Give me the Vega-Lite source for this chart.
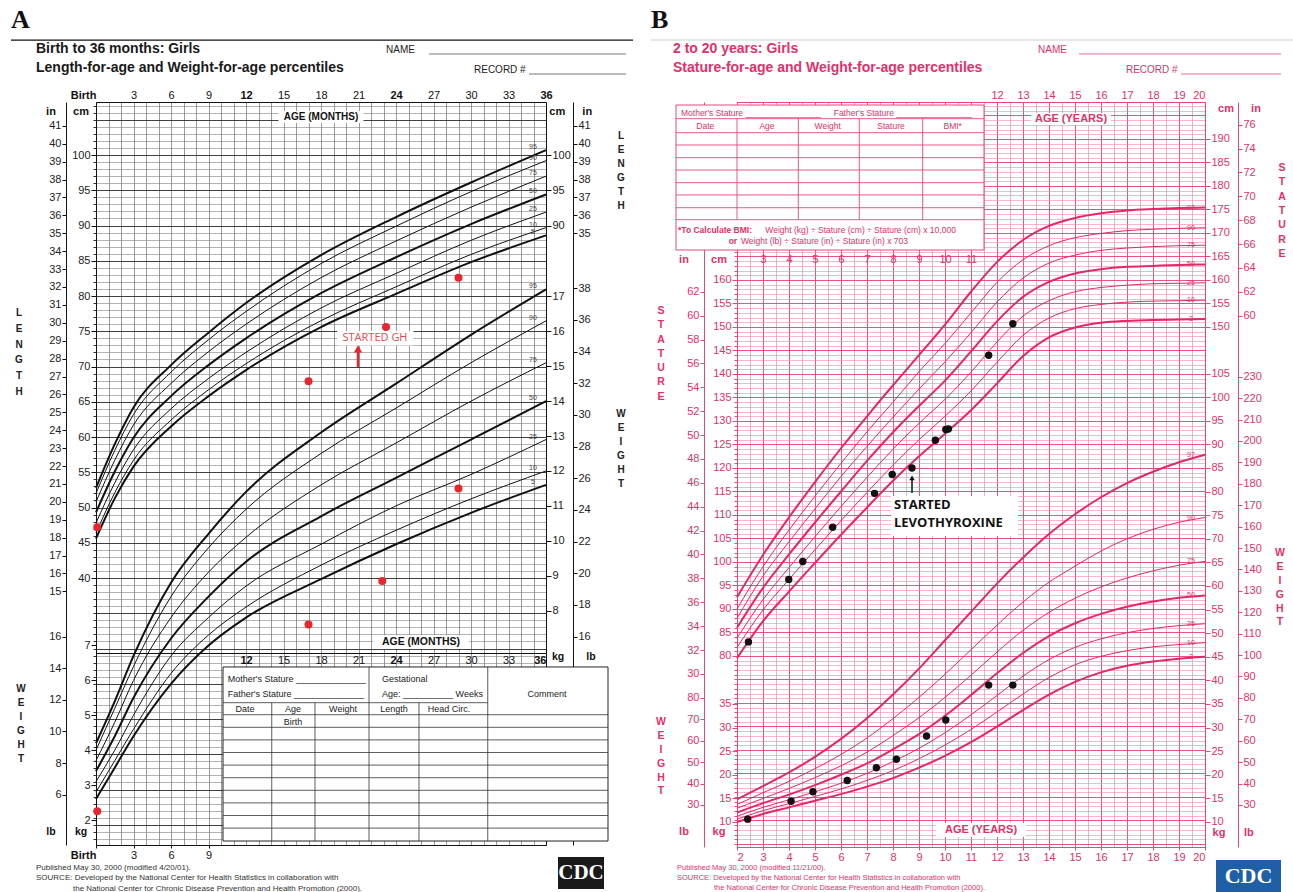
{
"$schema": "https://vega.github.io/schema/vega-lite/v6.json",
"background": "white",
"padding": {"left": 10, "top": 6, "right": 0, "bottom": 0},
"bounds": "flush",
"spacing": 191,
"config": {"view": {"stroke": null}, "axis": {"labelFont": "Liberation Sans", "labelFontSize": 11}, "text": {"font": "Liberation Sans"}},
"datasets": {
"lenA": [
{"p":"5","m":0,"v":45.6},{"p":"5","m":1.5,"v":51.3},{"p":"5","m":3,"v":55.8},{"p":"5","m":6,"v":61.5},{"p":"5","m":9,"v":65.8},{"p":"5","m":12,"v":69.5},{"p":"5","m":18,"v":75.6},{"p":"5","m":24,"v":80.3},{"p":"5","m":30,"v":84.8},{"p":"5","m":36,"v":88.6},
{"p":"10","m":0,"v":46.4},{"p":"10","m":1.5,"v":52.1},{"p":"10","m":3,"v":56.7},{"p":"10","m":6,"v":62.4},{"p":"10","m":9,"v":66.7},{"p":"10","m":12,"v":70.4},{"p":"10","m":18,"v":76.5},{"p":"10","m":24,"v":81.3},{"p":"10","m":30,"v":85.9},{"p":"10","m":36,"v":89.7},
{"p":"25","m":0,"v":47.8},{"p":"25","m":1.5,"v":53.5},{"p":"25","m":3,"v":58.2},{"p":"25","m":6,"v":64.0},{"p":"25","m":9,"v":68.3},{"p":"25","m":12,"v":72.0},{"p":"25","m":18,"v":78.3},{"p":"25","m":24,"v":83.2},{"p":"25","m":30,"v":87.9},{"p":"25","m":36,"v":91.9},
{"p":"50","m":0,"v":49.3},{"p":"50","m":1.5,"v":55.1},{"p":"50","m":3,"v":59.9},{"p":"50","m":6,"v":65.8},{"p":"50","m":9,"v":70.2},{"p":"50","m":12,"v":74.0},{"p":"50","m":18,"v":80.4},{"p":"50","m":24,"v":85.5},{"p":"50","m":30,"v":90.2},{"p":"50","m":36,"v":94.4},
{"p":"75","m":0,"v":50.8},{"p":"75","m":1.5,"v":56.7},{"p":"75","m":3,"v":61.7},{"p":"75","m":6,"v":67.6},{"p":"75","m":9,"v":72.1},{"p":"75","m":12,"v":76.0},{"p":"75","m":18,"v":82.6},{"p":"75","m":24,"v":87.8},{"p":"75","m":30,"v":92.6},{"p":"75","m":36,"v":97.0},
{"p":"90","m":0,"v":52.0},{"p":"90","m":1.5,"v":58.1},{"p":"90","m":3,"v":63.2},{"p":"90","m":6,"v":69.2},{"p":"90","m":9,"v":73.8},{"p":"90","m":12,"v":77.8},{"p":"90","m":18,"v":84.6},{"p":"90","m":24,"v":89.9},{"p":"90","m":30,"v":94.8},{"p":"90","m":36,"v":99.2},
{"p":"95","m":0,"v":52.8},{"p":"95","m":1.5,"v":59.0},{"p":"95","m":3,"v":64.2},{"p":"95","m":6,"v":70.2},{"p":"95","m":9,"v":74.8},{"p":"95","m":12,"v":79.0},{"p":"95","m":18,"v":85.8},{"p":"95","m":24,"v":91.2},{"p":"95","m":30,"v":96.1},{"p":"95","m":36,"v":100.7}
],
"wtA": [
{"p":"5","m":0,"v":2.6},{"p":"5","m":1.5,"v":3.5},{"p":"5","m":3,"v":4.4},{"p":"5","m":6,"v":5.9},{"p":"5","m":9,"v":7.0},{"p":"5","m":12,"v":7.8},{"p":"5","m":18,"v":8.9},{"p":"5","m":24,"v":9.9},{"p":"5","m":30,"v":10.8},{"p":"5","m":36,"v":11.6},
{"p":"10","m":0,"v":2.8},{"p":"10","m":1.5,"v":3.7},{"p":"10","m":3,"v":4.6},{"p":"10","m":6,"v":6.2},{"p":"10","m":9,"v":7.3},{"p":"10","m":12,"v":8.1},{"p":"10","m":18,"v":9.3},{"p":"10","m":24,"v":10.3},{"p":"10","m":30,"v":11.2},{"p":"10","m":36,"v":12.0},
{"p":"25","m":0,"v":3.1},{"p":"25","m":1.5,"v":4.0},{"p":"25","m":3,"v":5.0},{"p":"25","m":6,"v":6.7},{"p":"25","m":9,"v":7.8},{"p":"25","m":12,"v":8.7},{"p":"25","m":18,"v":9.9},{"p":"25","m":24,"v":11.0},{"p":"25","m":30,"v":11.9},{"p":"25","m":36,"v":12.9},
{"p":"50","m":0,"v":3.4},{"p":"50","m":1.5,"v":4.4},{"p":"50","m":3,"v":5.5},{"p":"50","m":6,"v":7.2},{"p":"50","m":9,"v":8.4},{"p":"50","m":12,"v":9.4},{"p":"50","m":18,"v":10.7},{"p":"50","m":24,"v":11.8},{"p":"50","m":30,"v":12.9},{"p":"50","m":36,"v":14.0},
{"p":"75","m":0,"v":3.7},{"p":"75","m":1.5,"v":4.8},{"p":"75","m":3,"v":6.0},{"p":"75","m":6,"v":7.8},{"p":"75","m":9,"v":9.1},{"p":"75","m":12,"v":10.1},{"p":"75","m":18,"v":11.6},{"p":"75","m":24,"v":12.8},{"p":"75","m":30,"v":14.0},{"p":"75","m":36,"v":15.1},
{"p":"90","m":0,"v":4.0},{"p":"90","m":1.5,"v":5.2},{"p":"90","m":3,"v":6.4},{"p":"90","m":6,"v":8.4},{"p":"90","m":9,"v":9.8},{"p":"90","m":12,"v":10.9},{"p":"90","m":18,"v":12.5},{"p":"90","m":24,"v":13.8},{"p":"90","m":30,"v":15.1},{"p":"90","m":36,"v":16.3},
{"p":"95","m":0,"v":4.2},{"p":"95","m":1.5,"v":5.4},{"p":"95","m":3,"v":6.7},{"p":"95","m":6,"v":8.8},{"p":"95","m":9,"v":10.2},{"p":"95","m":12,"v":11.4},{"p":"95","m":18,"v":13.1},{"p":"95","m":24,"v":14.5},{"p":"95","m":30,"v":15.9},{"p":"95","m":36,"v":17.2}
],
"staB": [
{"p":"97","m":2,"v":92.5},{"p":"97","m":3,"v":101.5},{"p":"97","m":4,"v":109.5},{"p":"97","m":5,"v":117.0},{"p":"97","m":6,"v":124.2},{"p":"97","m":7,"v":131.0},{"p":"97","m":8,"v":137.6},{"p":"97","m":9,"v":144.0},{"p":"97","m":10,"v":150.5},{"p":"97","m":11,"v":157.5},{"p":"97","m":12,"v":163.8},{"p":"97","m":13,"v":168.5},{"p":"97","m":14,"v":171.5},{"p":"97","m":15,"v":173.2},{"p":"97","m":16,"v":174.2},{"p":"97","m":17,"v":174.8},{"p":"97","m":18,"v":175.1},{"p":"97","m":19,"v":175.3},{"p":"97","m":20,"v":175.4},
{"p":"90","m":2,"v":90.0},{"p":"90","m":3,"v":99.0},{"p":"90","m":4,"v":106.8},{"p":"90","m":5,"v":114.0},{"p":"90","m":6,"v":121.0},{"p":"90","m":7,"v":127.7},{"p":"90","m":8,"v":134.0},{"p":"90","m":9,"v":140.5},{"p":"90","m":10,"v":146.5},{"p":"90","m":11,"v":153.0},{"p":"90","m":12,"v":159.5},{"p":"90","m":13,"v":164.3},{"p":"90","m":14,"v":167.3},{"p":"90","m":15,"v":169.0},{"p":"90","m":16,"v":169.9},{"p":"90","m":17,"v":170.5},{"p":"90","m":18,"v":170.8},{"p":"90","m":19,"v":171.0},{"p":"90","m":20,"v":171.1},
{"p":"75","m":2,"v":88.0},{"p":"75","m":3,"v":97.0},{"p":"75","m":4,"v":104.3},{"p":"75","m":5,"v":111.3},{"p":"75","m":6,"v":118.2},{"p":"75","m":7,"v":124.6},{"p":"75","m":8,"v":130.8},{"p":"75","m":9,"v":136.8},{"p":"75","m":10,"v":142.6},{"p":"75","m":11,"v":148.8},{"p":"75","m":12,"v":155.3},{"p":"75","m":13,"v":160.4},{"p":"75","m":14,"v":163.6},{"p":"75","m":15,"v":165.3},{"p":"75","m":16,"v":166.3},{"p":"75","m":17,"v":166.8},{"p":"75","m":18,"v":167.1},{"p":"75","m":19,"v":167.3},{"p":"75","m":20,"v":167.4},
{"p":"50","m":2,"v":86.0},{"p":"50","m":3,"v":94.5},{"p":"50","m":4,"v":101.6},{"p":"50","m":5,"v":108.4},{"p":"50","m":6,"v":115.0},{"p":"50","m":7,"v":121.5},{"p":"50","m":8,"v":127.6},{"p":"50","m":9,"v":133.2},{"p":"50","m":10,"v":138.6},{"p":"50","m":11,"v":144.8},{"p":"50","m":12,"v":151.2},{"p":"50","m":13,"v":156.4},{"p":"50","m":14,"v":159.6},{"p":"50","m":15,"v":161.4},{"p":"50","m":16,"v":162.3},{"p":"50","m":17,"v":162.8},{"p":"50","m":18,"v":163.0},{"p":"50","m":19,"v":163.2},{"p":"50","m":20,"v":163.3},
{"p":"25","m":2,"v":83.8},{"p":"25","m":3,"v":92.0},{"p":"25","m":4,"v":98.8},{"p":"25","m":5,"v":105.4},{"p":"25","m":6,"v":111.8},{"p":"25","m":7,"v":118.0},{"p":"25","m":8,"v":124.0},{"p":"25","m":9,"v":129.5},{"p":"25","m":10,"v":134.6},{"p":"25","m":11,"v":140.4},{"p":"25","m":12,"v":146.8},{"p":"25","m":13,"v":152.3},{"p":"25","m":14,"v":155.6},{"p":"25","m":15,"v":157.5},{"p":"25","m":16,"v":158.4},{"p":"25","m":17,"v":158.9},{"p":"25","m":18,"v":159.2},{"p":"25","m":19,"v":159.3},{"p":"25","m":20,"v":159.4},
{"p":"10","m":2,"v":81.8},{"p":"10","m":3,"v":89.8},{"p":"10","m":4,"v":96.3},{"p":"10","m":5,"v":102.6},{"p":"10","m":6,"v":108.8},{"p":"10","m":7,"v":114.8},{"p":"10","m":8,"v":120.6},{"p":"10","m":9,"v":126.0},{"p":"10","m":10,"v":131.0},{"p":"10","m":11,"v":136.4},{"p":"10","m":12,"v":142.5},{"p":"10","m":13,"v":148.2},{"p":"10","m":14,"v":151.9},{"p":"10","m":15,"v":153.9},{"p":"10","m":16,"v":154.8},{"p":"10","m":17,"v":155.3},{"p":"10","m":18,"v":155.5},{"p":"10","m":19,"v":155.6},{"p":"10","m":20,"v":155.7},
{"p":"3","m":2,"v":79.5},{"p":"3","m":3,"v":87.4},{"p":"3","m":4,"v":93.7},{"p":"3","m":5,"v":99.8},{"p":"3","m":6,"v":105.8},{"p":"3","m":7,"v":111.6},{"p":"3","m":8,"v":117.3},{"p":"3","m":9,"v":122.5},{"p":"3","m":10,"v":127.3},{"p":"3","m":11,"v":132.3},{"p":"3","m":12,"v":138.0},{"p":"3","m":13,"v":143.8},{"p":"3","m":14,"v":147.8},{"p":"3","m":15,"v":149.9},{"p":"3","m":16,"v":150.9},{"p":"3","m":17,"v":151.3},{"p":"3","m":18,"v":151.5},{"p":"3","m":19,"v":151.6},{"p":"3","m":20,"v":151.7}
],
"wtB": [
{"p":"97","m":2,"v":14.8},{"p":"97","m":3,"v":17.6},{"p":"97","m":4,"v":20.5},{"p":"97","m":5,"v":23.8},{"p":"97","m":6,"v":27.6},{"p":"97","m":7,"v":32.0},{"p":"97","m":8,"v":37.0},{"p":"97","m":9,"v":42.5},{"p":"97","m":10,"v":48.5},{"p":"97","m":11,"v":54.5},{"p":"97","m":12,"v":60.5},{"p":"97","m":13,"v":66.0},{"p":"97","m":14,"v":71.0},{"p":"97","m":15,"v":75.2},{"p":"97","m":16,"v":78.8},{"p":"97","m":17,"v":81.8},{"p":"97","m":18,"v":84.2},{"p":"97","m":19,"v":86.2},{"p":"97","m":20,"v":87.8},
{"p":"90","m":2,"v":13.7},{"p":"90","m":3,"v":16.2},{"p":"90","m":4,"v":18.6},{"p":"90","m":5,"v":21.3},{"p":"90","m":6,"v":24.3},{"p":"90","m":7,"v":27.8},{"p":"90","m":8,"v":31.9},{"p":"90","m":9,"v":36.4},{"p":"90","m":10,"v":41.3},{"p":"90","m":11,"v":46.5},{"p":"90","m":12,"v":51.7},{"p":"90","m":13,"v":56.6},{"p":"90","m":14,"v":60.8},{"p":"90","m":15,"v":64.2},{"p":"90","m":16,"v":67.4},{"p":"90","m":17,"v":70.0},{"p":"90","m":18,"v":72.0},{"p":"90","m":19,"v":73.5},{"p":"90","m":20,"v":74.5},
{"p":"75","m":2,"v":12.9},{"p":"75","m":3,"v":15.0},{"p":"75","m":4,"v":17.1},{"p":"75","m":5,"v":19.4},{"p":"75","m":6,"v":21.9},{"p":"75","m":7,"v":24.8},{"p":"75","m":8,"v":28.3},{"p":"75","m":9,"v":32.1},{"p":"75","m":10,"v":36.4},{"p":"75","m":11,"v":41.1},{"p":"75","m":12,"v":46.0},{"p":"75","m":13,"v":50.6},{"p":"75","m":14,"v":54.4},{"p":"75","m":15,"v":57.4},{"p":"75","m":16,"v":59.8},{"p":"75","m":17,"v":61.7},{"p":"75","m":18,"v":63.2},{"p":"75","m":19,"v":64.4},{"p":"75","m":20,"v":65.2},
{"p":"50","m":2,"v":12.0},{"p":"50","m":3,"v":14.0},{"p":"50","m":4,"v":15.8},{"p":"50","m":5,"v":17.8},{"p":"50","m":6,"v":20.0},{"p":"50","m":7,"v":22.4},{"p":"50","m":8,"v":25.4},{"p":"50","m":9,"v":28.6},{"p":"50","m":10,"v":32.5},{"p":"50","m":11,"v":36.9},{"p":"50","m":12,"v":41.5},{"p":"50","m":13,"v":45.8},{"p":"50","m":14,"v":49.4},{"p":"50","m":15,"v":52.1},{"p":"50","m":16,"v":54.1},{"p":"50","m":17,"v":55.6},{"p":"50","m":18,"v":56.7},{"p":"50","m":19,"v":57.5},{"p":"50","m":20,"v":58.0},
{"p":"25","m":2,"v":11.2},{"p":"25","m":3,"v":13.1},{"p":"25","m":4,"v":14.7},{"p":"25","m":5,"v":16.4},{"p":"25","m":6,"v":18.2},{"p":"25","m":7,"v":20.3},{"p":"25","m":8,"v":22.8},{"p":"25","m":9,"v":25.6},{"p":"25","m":10,"v":28.9},{"p":"25","m":11,"v":32.7},{"p":"25","m":12,"v":36.8},{"p":"25","m":13,"v":40.9},{"p":"25","m":14,"v":44.4},{"p":"25","m":15,"v":47.0},{"p":"25","m":16,"v":48.8},{"p":"25","m":17,"v":50.1},{"p":"25","m":18,"v":51.0},{"p":"25","m":19,"v":51.6},{"p":"25","m":20,"v":52.0},
{"p":"10","m":2,"v":10.6},{"p":"10","m":3,"v":12.4},{"p":"10","m":4,"v":13.9},{"p":"10","m":5,"v":15.4},{"p":"10","m":6,"v":17.0},{"p":"10","m":7,"v":18.8},{"p":"10","m":8,"v":20.9},{"p":"10","m":9,"v":23.4},{"p":"10","m":10,"v":26.3},{"p":"10","m":11,"v":29.6},{"p":"10","m":12,"v":33.3},{"p":"10","m":13,"v":37.1},{"p":"10","m":14,"v":40.6},{"p":"10","m":15,"v":43.3},{"p":"10","m":16,"v":45.1},{"p":"10","m":17,"v":46.3},{"p":"10","m":18,"v":47.1},{"p":"10","m":19,"v":47.6},{"p":"10","m":20,"v":48.0},
{"p":"3","m":2,"v":10.0},{"p":"3","m":3,"v":11.7},{"p":"3","m":4,"v":13.1},{"p":"3","m":5,"v":14.5},{"p":"3","m":6,"v":15.9},{"p":"3","m":7,"v":17.5},{"p":"3","m":8,"v":19.3},{"p":"3","m":9,"v":21.5},{"p":"3","m":10,"v":24.0},{"p":"3","m":11,"v":26.9},{"p":"3","m":12,"v":30.2},{"p":"3","m":13,"v":33.7},{"p":"3","m":14,"v":37.0},{"p":"3","m":15,"v":39.7},{"p":"3","m":16,"v":41.7},{"p":"3","m":17,"v":43.1},{"p":"3","m":18,"v":44.0},{"p":"3","m":19,"v":44.6},{"p":"3","m":20,"v":45.0}
]
},
"hconcat": [
{
"width": 450, "height": 743,
"resolve": {"scale": {"y": "independent"}, "axis": {"x": "independent", "y": "independent"}},
"layer": [
{"data": {"values": []}, "mark": "point",
 "encoding": {
  "x": {"field": "x", "type": "quantitative", "scale": {"domain": [0, 36], "nice": false, "zero": false}, "axis": {"orient": "bottom", "values": [0,1,2,3,4,5,6,7,8,9,10,11,12,13,14,15,16,17,18,19,20,21,22,23,24,25,26,27,28,29,30,31,32,33,34,35,36], "grid": true, "gridColor": "#555", "gridWidth": 0.6, "labels": false, "ticks": false, "domain": false, "title": null}},
  "y": {"field": "v", "type": "quantitative", "scale": {"domain": [2.13, 107.52], "nice": false, "zero": false}, "axis": {"orient": "left", "tickCount": 100, "grid": true, "gridColor": {"condition": {"test": "datum.value % 5 === 0", "value": "#2a2a2a"}, "value": "#747474"}, "gridWidth": {"condition": {"test": "datum.value % 5 === 0", "value": 0.9}, "value": 0.55}, "labels": false, "ticks": true, "tickSize": 3, "tickColor": "#333", "domain": false, "title": null}}
 }},
{"data": {"values": []}, "mark": "point",
 "encoding": {
  "x": {"field": "x", "type": "quantitative", "scale": {"domain": [0, 36], "nice": false, "zero": false}, "axis": {"orient": "top", "values": [0,3,6,9,12,15,18,21,24,27,30,33,36], "labelExpr": "datum.value == 0 ? 'Birth' : datum.label", "labelFontWeight": {"condition": {"test": "datum.value % 12 === 0", "value": "bold"}, "value": "normal"}, "labelAlign": {"condition": {"test": "datum.value === 0", "value": "right"}, "value": "center"}, "tickSize": 0, "labelPadding": 2, "domain": true, "domainColor": "#111", "grid": false, "labelColor": "#111", "title": null}},
  "y": {"field": "v", "type": "quantitative", "scale": {"domain": [2.13, 107.52], "nice": false, "zero": false}, "axis": {"orient": "left", "values": [40,45,50,55,60,65,70,75,80,85,90,95,100], "grid": false, "domain": true, "domainColor": "#111", "tickSize": 5, "tickColor": "#111", "labelPadding": 1, "labelColor": "#222", "title": null}}
 }},
{"data": {"values": []}, "mark": "point",
 "encoding": {
  "x": {"field": "x", "type": "quantitative", "scale": {"domain": [0, 36], "nice": false, "zero": false}, "axis": {"orient": "bottom", "values": [0,3,6,9], "labelExpr": "datum.value == 0 ? 'Birth' : datum.label", "labelFontWeight": {"condition": {"test": "datum.value === 0", "value": "bold"}, "value": "normal"}, "labelAlign": {"condition": {"test": "datum.value === 0", "value": "right"}, "value": "center"}, "tickSize": 3, "tickColor": "#111", "labelPadding": 1, "domain": true, "domainColor": "#111", "grid": false, "labelColor": "#111", "title": null}},
  "y": {"field": "v", "type": "quantitative", "scale": {"domain": [1.284, 22.57], "nice": false, "zero": false}, "axis": {"orient": "right", "values": [8,9,10,11,12,13,14,15,16,17], "grid": false, "domain": true, "domainColor": "#111", "tickSize": 5, "tickColor": "#111", "labelPadding": 1, "labelColor": "#222", "title": null}}
 }},
{"layer": [
 {"data": {"name": "lenA"}, "mark": {"type": "line", "interpolate": "monotone", "color": "#111"},
  "encoding": {
   "x": {"field": "m", "type": "quantitative", "scale": {"domain": [0, 36], "nice": false, "zero": false}, "axis": null},
   "y": {"field": "v", "type": "quantitative", "scale": {"domain": [2.13, 107.52], "nice": false, "zero": false}, "axis": null},
   "detail": {"field": "p"},
   "strokeWidth": {"condition": {"test": "datum.p == '5' || datum.p == '50' || datum.p == '95'", "value": 2}, "value": 1}
  }},
 {"data": {"name": "lenA"}, "transform": [{"filter": "datum.m == 36"}], "mark": {"type": "text", "dx": -13, "dy": -3, "fontSize": 7, "color": "#444"},
  "encoding": {"x": {"field": "m", "type": "quantitative", "scale": {"domain": [0, 36], "nice": false, "zero": false}, "axis": null}, "y": {"field": "v", "type": "quantitative", "scale": {"domain": [2.13, 107.52], "nice": false, "zero": false}, "axis": null}, "text": {"field": "p"}}},
 {"data": {"values": [{"m": 0.1, "v": 47.2}, {"m": 17.0, "v": 67.9}, {"m": 23.2, "v": 75.6}, {"m": 29.0, "v": 82.6}]}, "mark": {"type": "circle", "color": "#e8262e", "size": 64, "opacity": 1},
  "encoding": {"x": {"field": "m", "type": "quantitative", "scale": {"domain": [0, 36], "nice": false, "zero": false}, "axis": null}, "y": {"field": "v", "type": "quantitative", "scale": {"domain": [2.13, 107.52], "nice": false, "zero": false}, "axis": null}}},
 {"data": {"values": [{"x": 14.6, "x2": 21.4, "v": 106.24, "v2": 104.54}, {"x": 19.3, "x2": 25.4, "v": 75.04, "v2": 72.98}]}, "mark": {"type": "rect", "color": "white"},
  "encoding": {"x": {"field": "x", "type": "quantitative", "scale": {"domain": [0, 36], "nice": false, "zero": false}, "axis": null}, "x2": {"field": "x2"}, "y": {"field": "v", "type": "quantitative", "scale": {"domain": [2.13, 107.52], "nice": false, "zero": false}, "axis": null}, "y2": {"field": "v2"}}},
 {"data": {"values": [{"t": "AGE (MONTHS)", "x": 18, "v": 105.39}]}, "mark": {"type": "text", "fontSize": 10, "fontWeight": "bold", "color": "#111"},
  "encoding": {"x": {"field": "x", "type": "quantitative", "scale": {"domain": [0, 36], "nice": false, "zero": false}, "axis": null}, "y": {"field": "v", "type": "quantitative", "scale": {"domain": [2.13, 107.52], "nice": false, "zero": false}, "axis": null}, "text": {"field": "t"}}},
 {"data": {"values": [{"t": "STARTED GH", "x": 22.32, "v": 74.04}]}, "mark": {"type": "text", "fontSize": 11, "font": "Open Sans", "color": "#e5484d"},
  "encoding": {"x": {"field": "x", "type": "quantitative", "scale": {"domain": [0, 36], "nice": false, "zero": false}, "axis": null}, "y": {"field": "v", "type": "quantitative", "scale": {"domain": [2.13, 107.52], "nice": false, "zero": false}, "axis": null}, "text": {"field": "t"}}},
 {"data": {"values": [{"x": 20.96, "v": 69.93, "v2": 72.3}]}, "mark": {"type": "rule", "color": "#e8262e", "strokeWidth": 2.5},
  "encoding": {"x": {"field": "x", "type": "quantitative", "scale": {"domain": [0, 36], "nice": false, "zero": false}, "axis": null}, "y": {"field": "v", "type": "quantitative", "scale": {"domain": [2.13, 107.52], "nice": false, "zero": false}, "axis": null}, "y2": {"field": "v2"}}},
 {"data": {"values": [{"x": 20.96, "v": 72.5}]}, "mark": {"type": "point", "shape": "triangle-up", "filled": true, "color": "#e8262e", "size": 70, "opacity": 1},
  "encoding": {"x": {"field": "x", "type": "quantitative", "scale": {"domain": [0, 36], "nice": false, "zero": false}, "axis": null}, "y": {"field": "v", "type": "quantitative", "scale": {"domain": [2.13, 107.52], "nice": false, "zero": false}, "axis": null}}},
 {"data": {"values": [{"x": -6.8, "x2": 42.96, "v": 116.31}]}, "mark": {"type": "rule", "color": "#111", "strokeWidth": 1.2},
  "encoding": {"x": {"field": "x", "type": "quantitative", "scale": {"domain": [0, 36], "nice": false, "zero": false}, "axis": null}, "x2": {"field": "x2"}, "y": {"field": "v", "type": "quantitative", "scale": {"domain": [2.13, 107.52], "nice": false, "zero": false}, "axis": null}}},
 {"data": {"values": [{"x": 26.64, "x2": 42.4, "v": 114.33}, {"x": 34.64, "x2": 42.4, "v": 111.49}]}, "mark": {"type": "rule", "color": "#555", "strokeWidth": 0.8},
  "encoding": {"x": {"field": "x", "type": "quantitative", "scale": {"domain": [0, 36], "nice": false, "zero": false}, "axis": null}, "x2": {"field": "x2"}, "y": {"field": "v", "type": "quantitative", "scale": {"domain": [2.13, 107.52], "nice": false, "zero": false}, "axis": null}}},
 {"data": {"values": [{"t": "A", "x": -6.8, "v": 119.15}]}, "mark": {"type": "text", "align": "left", "font": "Liberation Serif", "fontSize": 26, "fontWeight": "bold", "color": "#111"},
  "encoding": {"x": {"field": "x", "type": "quantitative", "scale": {"domain": [0, 36], "nice": false, "zero": false}, "axis": null}, "y": {"field": "v", "type": "quantitative", "scale": {"domain": [2.13, 107.52], "nice": false, "zero": false}, "axis": null}, "text": {"field": "t"}}},
 {"data": {"values": [{"t": "Birth to 36 months: Girls", "x": -4.8, "v": 115.04}, {"t": "Length-for-age and Weight-for-age percentiles", "x": -4.8, "v": 112.34}]}, "mark": {"type": "text", "align": "left", "fontSize": 14, "fontWeight": "bold", "color": "#1a1a1a"},
  "encoding": {"x": {"field": "x", "type": "quantitative", "scale": {"domain": [0, 36], "nice": false, "zero": false}, "axis": null}, "y": {"field": "v", "type": "quantitative", "scale": {"domain": [2.13, 107.52], "nice": false, "zero": false}, "axis": null}, "text": {"field": "t"}}},
 {"data": {"values": [{"t": "NAME", "x": 23.2, "v": 114.89}, {"t": "RECORD #", "x": 30.24, "v": 112.06}]}, "mark": {"type": "text", "align": "left", "fontSize": 10, "color": "#222"},
  "encoding": {"x": {"field": "x", "type": "quantitative", "scale": {"domain": [0, 36], "nice": false, "zero": false}, "axis": null}, "y": {"field": "v", "type": "quantitative", "scale": {"domain": [2.13, 107.52], "nice": false, "zero": false}, "axis": null}, "text": {"field": "t"}}},
 {"data": {"values": [{"t": "in", "x": -3.6, "v": 106.1}, {"t": "cm", "x": -1.2, "v": 106.1}, {"t": "cm", "x": 36.9, "v": 106.1}, {"t": "in", "x": 39.3, "v": 106.1}]}, "mark": {"type": "text", "fontSize": 11, "fontWeight": "bold", "color": "#111"},
  "encoding": {"x": {"field": "x", "type": "quantitative", "scale": {"domain": [0, 36], "nice": false, "zero": false}, "axis": null}, "y": {"field": "v", "type": "quantitative", "scale": {"domain": [2.13, 107.52], "nice": false, "zero": false}, "axis": null}, "text": {"field": "t"}}},
 {"data": {"values": [{"t": "L\nE\nN\nG\nT\nH", "x": -6.16, "v": 78.3}]}, "mark": {"type": "text", "baseline": "top", "lineBreak": "\n", "lineHeight": 15.8, "fontSize": 10, "fontWeight": "bold", "color": "#222"},
  "encoding": {"x": {"field": "x", "type": "quantitative", "scale": {"domain": [0, 36], "nice": false, "zero": false}, "axis": null}, "y": {"field": "v", "type": "quantitative", "scale": {"domain": [2.13, 107.52], "nice": false, "zero": false}, "axis": null}, "text": {"field": "t"}}},
 {"data": {"values": [{"t": "L\nE\nN\nG\nT\nH", "x": 42.0, "v": 103.4}]}, "mark": {"type": "text", "baseline": "top", "lineBreak": "\n", "lineHeight": 14, "fontSize": 10, "fontWeight": "bold", "color": "#222"},
  "encoding": {"x": {"field": "x", "type": "quantitative", "scale": {"domain": [0, 36], "nice": false, "zero": false}, "axis": null}, "y": {"field": "v", "type": "quantitative", "scale": {"domain": [2.13, 107.52], "nice": false, "zero": false}, "axis": null}, "text": {"field": "t"}}}
]},
{"layer": [
 {"data": {"name": "wtA"}, "mark": {"type": "line", "interpolate": "monotone", "color": "#111"},
  "encoding": {
   "x": {"field": "m", "type": "quantitative", "scale": {"domain": [0, 36], "nice": false, "zero": false}, "axis": null},
   "y": {"field": "v", "type": "quantitative", "scale": {"domain": [1.284, 22.57], "nice": false, "zero": false}, "axis": null},
   "detail": {"field": "p"},
   "strokeWidth": {"condition": {"test": "datum.p == '5' || datum.p == '50' || datum.p == '95'", "value": 2}, "value": 1}
  }},
 {"data": {"name": "wtA"}, "transform": [{"filter": "datum.m == 36"}], "mark": {"type": "text", "dx": -13, "dy": -3, "fontSize": 7, "color": "#444"},
  "encoding": {"x": {"field": "m", "type": "quantitative", "scale": {"domain": [0, 36], "nice": false, "zero": false}, "axis": null}, "y": {"field": "v", "type": "quantitative", "scale": {"domain": [1.284, 22.57], "nice": false, "zero": false}, "axis": null}, "text": {"field": "p"}}},
 {"data": {"values": [{"m": 0.1, "v": 2.25}, {"m": 17.0, "v": 7.6}, {"m": 22.9, "v": 8.85}, {"m": 29.0, "v": 11.5}]}, "mark": {"type": "circle", "color": "#e8262e", "size": 64, "opacity": 1},
  "encoding": {"x": {"field": "m", "type": "quantitative", "scale": {"domain": [0, 36], "nice": false, "zero": false}, "axis": null}, "y": {"field": "v", "type": "quantitative", "scale": {"domain": [1.284, 22.57], "nice": false, "zero": false}, "axis": null}}},
 {"data": {"values": [{"x": 10.16, "x2": 40.96, "v": 6.384, "v2": 1.398}]}, "mark": {"type": "rect", "fill": "white", "stroke": "#222", "strokeWidth": 1},
  "encoding": {"x": {"field": "x", "type": "quantitative", "scale": {"domain": [0, 36], "nice": false, "zero": false}, "axis": null}, "x2": {"field": "x2"}, "y": {"field": "v", "type": "quantitative", "scale": {"domain": [1.284, 22.57], "nice": false, "zero": false}, "axis": null}, "y2": {"field": "v2"}}},
 {"data": {"values": [{"x": 10.16, "x2": 31.34, "v": 5.361}, {"x": 10.16, "x2": 40.96, "v": 5.017}, {"x": 10.16, "x2": 40.96, "v": 4.656}, {"x": 10.16, "x2": 40.96, "v": 4.295}, {"x": 10.16, "x2": 40.96, "v": 3.934}, {"x": 10.16, "x2": 40.96, "v": 3.573}, {"x": 10.16, "x2": 40.96, "v": 3.212}, {"x": 10.16, "x2": 40.96, "v": 2.851}, {"x": 10.16, "x2": 40.96, "v": 2.49}, {"x": 10.16, "x2": 40.96, "v": 2.129}, {"x": 10.16, "x2": 40.96, "v": 1.768}]}, "mark": {"type": "rule", "color": "#333", "strokeWidth": 0.8},
  "encoding": {"x": {"field": "x", "type": "quantitative", "scale": {"domain": [0, 36], "nice": false, "zero": false}, "axis": null}, "x2": {"field": "x2"}, "y": {"field": "v", "type": "quantitative", "scale": {"domain": [1.284, 22.57], "nice": false, "zero": false}, "axis": null}}},
 {"data": {"values": [{"x": 21.84, "v": 6.384, "v2": 1.398}, {"x": 31.34, "v": 6.384, "v2": 1.398}, {"x": 14.06, "v": 5.361, "v2": 1.398}, {"x": 17.52, "v": 5.361, "v2": 1.398}, {"x": 25.84, "v": 5.361, "v2": 1.398}]}, "mark": {"type": "rule", "color": "#333", "strokeWidth": 0.8},
  "encoding": {"x": {"field": "x", "type": "quantitative", "scale": {"domain": [0, 36], "nice": false, "zero": false}, "axis": null}, "y": {"field": "v", "type": "quantitative", "scale": {"domain": [1.284, 22.57], "nice": false, "zero": false}, "axis": null}, "y2": {"field": "v2"}}},
 {"data": {"values": [{"t": "Mother's Stature ______________", "x": 10.54, "v": 6.049}, {"t": "Father's Stature ______________", "x": 10.54, "v": 5.619}, {"t": "Gestational", "x": 22.88, "v": 6.049}, {"t": "Age: __________ Weeks", "x": 22.88, "v": 5.619}]}, "mark": {"type": "text", "align": "left", "fontSize": 9, "color": "#222"},
  "encoding": {"x": {"field": "x", "type": "quantitative", "scale": {"domain": [0, 36], "nice": false, "zero": false}, "axis": null}, "y": {"field": "v", "type": "quantitative", "scale": {"domain": [1.284, 22.57], "nice": false, "zero": false}, "axis": null}, "text": {"field": "t"}}},
 {"data": {"values": [{"t": "Comment", "x": 36.08, "v": 5.619}, {"t": "Date", "x": 11.92, "v": 5.18}, {"t": "Age", "x": 15.76, "v": 5.18}, {"t": "Weight", "x": 19.76, "v": 5.18}, {"t": "Length", "x": 23.84, "v": 5.18}, {"t": "Head  Circ.", "x": 28.24, "v": 5.18}, {"t": "Birth", "x": 15.76, "v": 4.808}]}, "mark": {"type": "text", "fontSize": 9, "color": "#222"},
  "encoding": {"x": {"field": "x", "type": "quantitative", "scale": {"domain": [0, 36], "nice": false, "zero": false}, "axis": null}, "y": {"field": "v", "type": "quantitative", "scale": {"domain": [1.284, 22.57], "nice": false, "zero": false}, "axis": null}, "text": {"field": "t"}}},
 {"data": {"values": [{"t": "Published May 30, 2000 (modified 4/20/01).", "x": -4.8, "v": 0.62}, {"t": "SOURCE: Developed by the National Center for Health Statistics in collaboration with", "x": -4.8, "v": 0.33}, {"t": "the National Center for Chronic Disease Prevention and Health Promotion (2000).", "x": -1.84, "v": 0.03}]}, "mark": {"type": "text", "align": "left", "fontSize": 8, "color": "#333"},
  "encoding": {"x": {"field": "x", "type": "quantitative", "scale": {"domain": [0, 36], "nice": false, "zero": false}, "axis": null}, "y": {"field": "v", "type": "quantitative", "scale": {"domain": [1.284, 22.57], "nice": false, "zero": false}, "axis": null}, "text": {"field": "t"}}},
 {"data": {"values": [{"x": 36.96, "x2": 40.64, "v": 0.94, "v2": 0.023}]}, "mark": {"type": "rect", "color": "#1a1a1a"},
  "encoding": {"x": {"field": "x", "type": "quantitative", "scale": {"domain": [0, 36], "nice": false, "zero": false}, "axis": null}, "x2": {"field": "x2"}, "y": {"field": "v", "type": "quantitative", "scale": {"domain": [1.284, 22.57], "nice": false, "zero": false}, "axis": null}, "y2": {"field": "v2"}}},
 {"data": {"values": [{"t": "CDC", "x": 38.8, "v": 0.481}]}, "mark": {"type": "text", "font": "Liberation Serif", "fontSize": 21, "fontWeight": "bold", "color": "white"},
  "encoding": {"x": {"field": "x", "type": "quantitative", "scale": {"domain": [0, 36], "nice": false, "zero": false}, "axis": null}, "y": {"field": "v", "type": "quantitative", "scale": {"domain": [1.284, 22.57], "nice": false, "zero": false}, "axis": null}, "text": {"field": "t"}}},
 {"data": {"values": [{"x": 22.16, "x2": 29.84, "v": 7.3, "v2": 6.9}]}, "mark": {"type": "rect", "color": "white"},
  "encoding": {"x": {"field": "x", "type": "quantitative", "scale": {"domain": [0, 36], "nice": false, "zero": false}, "axis": null}, "x2": {"field": "x2"}, "y": {"field": "v", "type": "quantitative", "scale": {"domain": [1.284, 22.57], "nice": false, "zero": false}, "axis": null}, "y2": {"field": "v2"}}},
 {"data": {"values": [{"t": "AGE (MONTHS)", "x": 26, "v": 7.1}, {"t": "lb", "x": -3.6, "v": 1.656}, {"t": "kg", "x": -1.2, "v": 1.656}, {"t": "kg", "x": 36.96, "v": 6.67}, {"t": "lb", "x": 39.6, "v": 6.67}]}, "mark": {"type": "text", "fontSize": 10.5, "fontWeight": "bold", "color": "#111"},
  "encoding": {"x": {"field": "x", "type": "quantitative", "scale": {"domain": [0, 36], "nice": false, "zero": false}, "axis": null}, "y": {"field": "v", "type": "quantitative", "scale": {"domain": [1.284, 22.57], "nice": false, "zero": false}, "axis": null}, "text": {"field": "t"}}},
 {"data": {"values": [{"t": "W\nE\nI\nG\nH\nT", "x": 42.0, "v": 13.78}, {"t": "W\nE\nI\nG\nH\nT", "x": -6.0, "v": 5.897}]}, "mark": {"type": "text", "baseline": "top", "lineBreak": "\n", "lineHeight": 14, "fontSize": 10, "fontWeight": "bold", "color": "#222"},
  "encoding": {"x": {"field": "x", "type": "quantitative", "scale": {"domain": [0, 36], "nice": false, "zero": false}, "axis": null}, "y": {"field": "v", "type": "quantitative", "scale": {"domain": [1.284, 22.57], "nice": false, "zero": false}, "axis": null}, "text": {"field": "t"}}}
]},
{"data": {"values": []}, "mark": "point",
 "encoding": {
  "x": {"field": "x", "type": "quantitative", "scale": {"domain": [0, 36], "nice": false, "zero": false}, "axis": {"orient": "bottom", "offset": -192, "values": [12,15,18,21,24,27,30,33,36], "labelFontWeight": {"condition": {"test": "datum.value % 12 === 0", "value": "bold"}, "value": "normal"}, "tickSize": 0, "labelPadding": 1, "domain": true, "domainColor": "#111", "grid": false, "labelColor": "#111", "title": null}},
  "y": {"field": "v", "type": "quantitative", "scale": {"domain": [1.284, 22.57], "nice": false, "zero": false}, "axis": {"orient": "left", "values": [2,3,4,5,6,7], "grid": false, "domain": false, "tickSize": 5, "tickColor": "#111", "labelPadding": 1, "labelColor": "#222", "title": null}}
 }},
{"data": {"values": []}, "mark": "point",
 "encoding": {
  "x": {"field": "x", "type": "quantitative", "scale": {"domain": [0, 36], "nice": false, "zero": false}, "axis": null},
  "y": {"field": "v", "type": "quantitative", "scale": {"domain": [2.831, 49.76], "nice": false, "zero": false}, "axis": {"orient": "left", "offset": 30, "values": [6,8,10,12,14,16], "grid": false, "domain": true, "domainColor": "#111", "tickSize": 4, "tickColor": "#111", "labelPadding": 1, "labelColor": "#222", "title": null}}
 }},
{"data": {"values": []}, "mark": "point",
 "encoding": {
  "x": {"field": "x", "type": "quantitative", "scale": {"domain": [0, 36], "nice": false, "zero": false}, "axis": null},
  "y": {"field": "v", "type": "quantitative", "scale": {"domain": [0.8386, 42.33], "nice": false, "zero": false}, "axis": {"orient": "left", "offset": 30, "values": [15,16,17,18,19,20,21,22,23,24,25,26,27,28,29,30,31,32,33,34,35,36,37,38,39,40,41], "grid": false, "domain": false, "tickSize": 4, "tickColor": "#111", "labelPadding": 1, "labelColor": "#222", "title": null}}
 }},
{"data": {"values": []}, "mark": "point",
 "encoding": {
  "x": {"field": "x", "type": "quantitative", "scale": {"domain": [0, 36], "nice": false, "zero": false}, "axis": null},
  "y": {"field": "v", "type": "quantitative", "scale": {"domain": [2.831, 49.76], "nice": false, "zero": false}, "axis": {"orient": "right", "offset": 27, "values": [16,18,20,22,24,26,28,30,32,34,36,38], "grid": false, "domain": true, "domainColor": "#111", "tickSize": 4, "tickColor": "#111", "labelPadding": 1, "labelColor": "#222", "title": null}}
 }},
{"data": {"values": []}, "mark": "point",
 "encoding": {
  "x": {"field": "x", "type": "quantitative", "scale": {"domain": [0, 36], "nice": false, "zero": false}, "axis": null},
  "y": {"field": "v", "type": "quantitative", "scale": {"domain": [0.8386, 42.33], "nice": false, "zero": false}, "axis": {"orient": "right", "offset": 27, "values": [35,36,37,38,39,40,41], "grid": false, "domain": false, "tickSize": 4, "tickColor": "#111", "labelPadding": 1, "labelColor": "#222", "title": null}}
 }},
{"data": {"values": []}, "mark": "point",
 "encoding": {
  "x": {"field": "x", "type": "quantitative", "scale": {"domain": [0, 36], "nice": false, "zero": false}, "axis": null},
  "y": {"field": "v", "type": "quantitative", "scale": {"domain": [2.13, 107.52], "nice": false, "zero": false}, "axis": {"orient": "right", "values": [90,95,100], "grid": false, "domain": false, "tickSize": 5, "tickColor": "#111", "labelPadding": 1, "labelColor": "#222", "title": null}}
 }}
]
},
{
"width": 468, "height": 745,
"resolve": {"scale": {"y": "independent"}, "axis": {"x": "independent", "y": "independent"}},
"layer": [
{"data": {"values": []}, "mark": "point",
 "encoding": {
  "x": {"field": "x", "type": "quantitative", "scale": {"domain": [2, 20], "nice": false, "zero": false}, "axis": {"orient": "bottom", "values": [2,2.5,3,3.5,4,4.5,5,5.5,6,6.5,7,7.5,8,8.5,9,9.5,10,10.5,11,11.5,12,12.5,13,13.5,14,14.5,15,15.5,16,16.5,17,17.5,18,18.5,19,19.5,20], "grid": true, "gridColor": {"condition": {"test": "datum.value % 1 === 0", "value": "#e33f76"}, "value": "#ec7aa2"}, "gridWidth": {"condition": {"test": "datum.value % 1 === 0", "value": 0.9}, "value": 0.6}, "labels": false, "ticks": false, "domain": false, "title": null}},
  "y": {"field": "v", "type": "quantitative", "scale": {"domain": [39.36, 197.87], "nice": false, "zero": false}, "axis": {"orient": "left", "tickCount": 160, "grid": true, "gridColor": {"condition": {"test": "datum.value % 5 === 0", "value": "#e33f76"}, "value": "#f084aa"}, "gridWidth": {"condition": {"test": "datum.value % 5 === 0", "value": 0.9}, "value": 0.6}, "labels": false, "ticks": true, "tickSize": 3, "tickColor": "#e8457a", "domain": false, "title": null}}
 }},
{"data": {"values": []}, "mark": "point",
 "encoding": {
  "x": {"field": "x", "type": "quantitative", "scale": {"domain": [2, 20], "nice": false, "zero": false}, "axis": {"orient": "bottom", "values": [2,3,4,5,6,7,8,9,10,11,12,13,14,15,16,17,18,19,20], "tickSize": 3, "tickColor": "#e8457a", "labelPadding": 1, "domain": true, "domainColor": "#e8457a", "grid": false, "labelColor": "#e0306a", "title": null}},
  "y": {"field": "v", "type": "quantitative", "scale": {"domain": [39.36, 197.87], "nice": false, "zero": false}, "axis": {"orient": "left", "values": [80,85,90,95,100,105,110,115,120,125,130,135,140,145,150,155,160], "grid": false, "domain": true, "domainColor": "#e8457a", "tickSize": 5, "tickColor": "#e8457a", "labelPadding": 1, "labelColor": "#e0306a", "title": null}}
 }},
{"data": {"values": []}, "mark": "point",
 "encoding": {
  "x": {"field": "x", "type": "quantitative", "scale": {"domain": [2, 20], "nice": false, "zero": false}, "axis": {"orient": "top", "values": [12,13,14,15,16,17,18,19,20], "tickSize": 0, "labelPadding": 2, "domain": true, "domainColor": "#e8457a", "grid": false, "labelColor": "#e0306a", "title": null}},
  "y": {"field": "v", "type": "quantitative", "scale": {"domain": [4.7, 162.54], "nice": false, "zero": false}, "axis": {"orient": "right", "values": [10,15,20,25,30,35,40,45,50,55,60,65,70,75,80,85,90,95,100,105], "grid": false, "domain": true, "domainColor": "#e8457a", "tickSize": 5, "tickColor": "#e8457a", "labelPadding": 1, "labelColor": "#e0306a", "title": null}}
 }},
{"layer": [
 {"data": {"name": "staB"}, "mark": {"type": "line", "interpolate": "monotone", "color": "#e2286a"},
  "encoding": {
   "x": {"field": "m", "type": "quantitative", "scale": {"domain": [2, 20], "nice": false, "zero": false}, "axis": null},
   "y": {"field": "v", "type": "quantitative", "scale": {"domain": [39.36, 197.87], "nice": false, "zero": false}, "axis": null},
   "detail": {"field": "p"},
   "strokeWidth": {"condition": {"test": "datum.p == '3' || datum.p == '50' || datum.p == '97'", "value": 2}, "value": 1}
  }},
 {"data": {"name": "staB"}, "transform": [{"filter": "datum.m == 20"}], "mark": {"type": "text", "dx": -14, "dy": 0, "fontSize": 7, "color": "#e0306a"},
  "encoding": {"x": {"field": "m", "type": "quantitative", "scale": {"domain": [2, 20], "nice": false, "zero": false}, "axis": null}, "y": {"field": "v", "type": "quantitative", "scale": {"domain": [39.36, 197.87], "nice": false, "zero": false}, "axis": null}, "text": {"field": "p"}}},
 {"data": {"values": [{"m": 2.44, "v": 83.0}, {"m": 3.99, "v": 96.3}, {"m": 4.53, "v": 100.1}, {"m": 5.68, "v": 107.4}, {"m": 7.29, "v": 114.6}, {"m": 7.97, "v": 118.6}, {"m": 8.73, "v": 120.0}, {"m": 9.63, "v": 125.9}, {"m": 10.03, "v": 128.2}, {"m": 10.13, "v": 128.3}, {"m": 11.68, "v": 144.0}, {"m": 12.61, "v": 150.7}]}, "mark": {"type": "circle", "color": "#111", "size": 55, "opacity": 1},
  "encoding": {"x": {"field": "m", "type": "quantitative", "scale": {"domain": [2, 20], "nice": false, "zero": false}, "axis": null}, "y": {"field": "v", "type": "quantitative", "scale": {"domain": [39.36, 197.87], "nice": false, "zero": false}, "axis": null}}},
 {"data": {"values": [{"x": -0.346, "x2": 11.5, "v": 197.23, "v2": 166.38}]}, "mark": {"type": "rect", "fill": "white", "stroke": "#e8457a", "strokeWidth": 1},
  "encoding": {"x": {"field": "x", "type": "quantitative", "scale": {"domain": [2, 20], "nice": false, "zero": false}, "axis": null}, "x2": {"field": "x2"}, "y": {"field": "v", "type": "quantitative", "scale": {"domain": [39.36, 197.87], "nice": false, "zero": false}, "axis": null}, "y2": {"field": "v2"}}},
 {"data": {"values": [{"x": -0.346, "x2": 11.5, "v": 194.32}, {"x": -0.346, "x2": 11.5, "v": 191.34}, {"x": -0.346, "x2": 11.5, "v": 188.72}, {"x": -0.346, "x2": 11.5, "v": 186.02}, {"x": -0.346, "x2": 11.5, "v": 183.4}, {"x": -0.346, "x2": 11.5, "v": 180.7}, {"x": -0.346, "x2": 11.5, "v": 178.09}, {"x": -0.346, "x2": 11.5, "v": 175.38}, {"x": -0.346, "x2": 11.5, "v": 172.83}]}, "mark": {"type": "rule", "color": "#e8457a", "strokeWidth": 0.9},
  "encoding": {"x": {"field": "x", "type": "quantitative", "scale": {"domain": [2, 20], "nice": false, "zero": false}, "axis": null}, "x2": {"field": "x2"}, "y": {"field": "v", "type": "quantitative", "scale": {"domain": [39.36, 197.87], "nice": false, "zero": false}, "axis": null}}},
 {"data": {"values": [{"x": 2.0, "v": 194.32, "v2": 172.83}, {"x": 4.358, "v": 194.32, "v2": 172.83}, {"x": 6.704, "v": 194.32, "v2": 172.83}, {"x": 9.142, "v": 194.32, "v2": 172.83}]}, "mark": {"type": "rule", "color": "#e8457a", "strokeWidth": 0.9},
  "encoding": {"x": {"field": "x", "type": "quantitative", "scale": {"domain": [2, 20], "nice": false, "zero": false}, "axis": null}, "y": {"field": "v", "type": "quantitative", "scale": {"domain": [39.36, 197.87], "nice": false, "zero": false}, "axis": null}, "y2": {"field": "v2"}}},
 {"data": {"values": [{"t": "Mother's Stature ________________", "x": -0.154, "v": 195.6}, {"t": "Father's Stature ________________", "x": 5.719, "v": 195.6}, {"t": "Weight (kg) ÷ Stature (cm) ÷ Stature (cm) x 10,000", "x": 3.088, "v": 170.7}, {"t": "Weight (lb) ÷ Stature (in) ÷ Stature (in) x 703", "x": 2.154, "v": 168.3}]}, "mark": {"type": "text", "align": "left", "fontSize": 8.5, "color": "#e0306a"},
  "encoding": {"x": {"field": "x", "type": "quantitative", "scale": {"domain": [2, 20], "nice": false, "zero": false}, "axis": null}, "y": {"field": "v", "type": "quantitative", "scale": {"domain": [39.36, 197.87], "nice": false, "zero": false}, "axis": null}, "text": {"field": "t"}}},
 {"data": {"values": [{"t": "*To Calculate BMI:", "x": -0.269, "v": 170.7}, {"t": "or", "x": 1.68, "v": 168.3}]}, "mark": {"type": "text", "align": "left", "fontSize": 8.5, "fontWeight": "bold", "color": "#e0306a"},
  "encoding": {"x": {"field": "x", "type": "quantitative", "scale": {"domain": [2, 20], "nice": false, "zero": false}, "axis": null}, "y": {"field": "v", "type": "quantitative", "scale": {"domain": [39.36, 197.87], "nice": false, "zero": false}, "axis": null}, "text": {"field": "t"}}},
 {"data": {"values": [{"t": "Date", "x": 0.781, "v": 192.7}, {"t": "Age", "x": 3.154, "v": 192.7}, {"t": "Weight", "x": 5.488, "v": 192.7}, {"t": "Stature", "x": 7.923, "v": 192.7}, {"t": "BMI*", "x": 10.296, "v": 192.7}]}, "mark": {"type": "text", "fontSize": 8.5, "color": "#e0306a"},
  "encoding": {"x": {"field": "x", "type": "quantitative", "scale": {"domain": [2, 20], "nice": false, "zero": false}, "axis": null}, "y": {"field": "v", "type": "quantitative", "scale": {"domain": [39.36, 197.87], "nice": false, "zero": false}, "axis": null}, "text": {"field": "t"}}},
 {"data": {"values": [{"x": 13.31, "x2": 16.38, "v": 195.53, "v2": 192.98}, {"x": 7.923, "x2": 12.808, "v": 114.04, "v2": 105.53}]}, "mark": {"type": "rect", "color": "white"},
  "encoding": {"x": {"field": "x", "type": "quantitative", "scale": {"domain": [2, 20], "nice": false, "zero": false}, "axis": null}, "x2": {"field": "x2"}, "y": {"field": "v", "type": "quantitative", "scale": {"domain": [39.36, 197.87], "nice": false, "zero": false}, "axis": null}, "y2": {"field": "v2"}}},
 {"data": {"values": [{"t": "AGE (YEARS)", "x": 14.846, "v": 194.26}, {"t": "cm", "x": 20.81, "v": 196.38}, {"t": "in", "x": 21.96, "v": 196.38}, {"t": "in", "x": -0.038, "v": 164.26}, {"t": "cm", "x": 1.308, "v": 164.26}]}, "mark": {"type": "text", "fontSize": 11, "fontWeight": "bold", "color": "#e0306a"},
  "encoding": {"x": {"field": "x", "type": "quantitative", "scale": {"domain": [2, 20], "nice": false, "zero": false}, "axis": null}, "y": {"field": "v", "type": "quantitative", "scale": {"domain": [39.36, 197.87], "nice": false, "zero": false}, "axis": null}, "text": {"field": "t"}}},
 {"data": {"values": [{"t": "STARTED", "x": 8.038, "v": 112.13}, {"t": "LEVOTHYROXINE", "x": 8.038, "v": 108.3}]}, "mark": {"type": "text", "align": "left", "font": "Open Sans", "fontSize": 13, "fontWeight": "bold", "color": "#111"},
  "encoding": {"x": {"field": "x", "type": "quantitative", "scale": {"domain": [2, 20], "nice": false, "zero": false}, "axis": null}, "y": {"field": "v", "type": "quantitative", "scale": {"domain": [39.36, 197.87], "nice": false, "zero": false}, "axis": null}, "text": {"field": "t"}}},
 {"data": {"values": [{"x": 8.731, "v": 114.68, "v2": 117.6}]}, "mark": {"type": "rule", "color": "#111", "strokeWidth": 1.5},
  "encoding": {"x": {"field": "x", "type": "quantitative", "scale": {"domain": [2, 20], "nice": false, "zero": false}, "axis": null}, "y": {"field": "v", "type": "quantitative", "scale": {"domain": [39.36, 197.87], "nice": false, "zero": false}, "axis": null}, "y2": {"field": "v2"}}},
 {"data": {"values": [{"x": 8.731, "v": 117.9}]}, "mark": {"type": "point", "shape": "triangle-up", "filled": true, "color": "#111", "size": 30, "opacity": 1},
  "encoding": {"x": {"field": "x", "type": "quantitative", "scale": {"domain": [2, 20], "nice": false, "zero": false}, "axis": null}, "y": {"field": "v", "type": "quantitative", "scale": {"domain": [39.36, 197.87], "nice": false, "zero": false}, "axis": null}}},
 {"data": {"values": [{"x": -1.308, "x2": 23.42, "v": 211.06}]}, "mark": {"type": "rule", "color": "#cfcfcf", "strokeWidth": 1},
  "encoding": {"x": {"field": "x", "type": "quantitative", "scale": {"domain": [2, 20], "nice": false, "zero": false}, "axis": null}, "x2": {"field": "x2"}, "y": {"field": "v", "type": "quantitative", "scale": {"domain": [39.36, 197.87], "nice": false, "zero": false}, "axis": null}}},
 {"data": {"values": [{"x": 15.154, "x2": 22.923, "v": 208.09}, {"x": 19.077, "x2": 22.923, "v": 203.83}]}, "mark": {"type": "rule", "color": "#e8457a", "strokeWidth": 0.8},
  "encoding": {"x": {"field": "x", "type": "quantitative", "scale": {"domain": [2, 20], "nice": false, "zero": false}, "axis": null}, "x2": {"field": "x2"}, "y": {"field": "v", "type": "quantitative", "scale": {"domain": [39.36, 197.87], "nice": false, "zero": false}, "axis": null}}},
 {"data": {"values": [{"t": "B", "x": -1.308, "v": 215.32}]}, "mark": {"type": "text", "align": "left", "font": "Liberation Serif", "fontSize": 26, "fontWeight": "bold", "color": "#111"},
  "encoding": {"x": {"field": "x", "type": "quantitative", "scale": {"domain": [2, 20], "nice": false, "zero": false}, "axis": null}, "y": {"field": "v", "type": "quantitative", "scale": {"domain": [39.36, 197.87], "nice": false, "zero": false}, "axis": null}, "text": {"field": "t"}}},
 {"data": {"values": [{"t": "2 to 20 years: Girls", "x": -0.4615, "v": 209.15}, {"t": "Stature-for-age and Weight-for-age percentiles", "x": -0.4615, "v": 205.11}]}, "mark": {"type": "text", "align": "left", "fontSize": 14, "fontWeight": "bold", "color": "#e3306c"},
  "encoding": {"x": {"field": "x", "type": "quantitative", "scale": {"domain": [2, 20], "nice": false, "zero": false}, "axis": null}, "y": {"field": "v", "type": "quantitative", "scale": {"domain": [39.36, 197.87], "nice": false, "zero": false}, "axis": null}, "text": {"field": "t"}}},
 {"data": {"values": [{"t": "NAME", "x": 13.577, "v": 208.94}, {"t": "RECORD #", "x": 16.96, "v": 204.68}]}, "mark": {"type": "text", "align": "left", "fontSize": 10, "color": "#e3306c"},
  "encoding": {"x": {"field": "x", "type": "quantitative", "scale": {"domain": [2, 20], "nice": false, "zero": false}, "axis": null}, "y": {"field": "v", "type": "quantitative", "scale": {"domain": [39.36, 197.87], "nice": false, "zero": false}, "axis": null}, "text": {"field": "t"}}},
 {"data": {"values": [{"t": "S\nT\nA\nT\nU\nR\nE", "x": 22.96, "v": 184.89}, {"t": "S\nT\nA\nT\nU\nR\nE", "x": -0.923, "v": 154.47}]}, "mark": {"type": "text", "baseline": "top", "lineBreak": "\n", "lineHeight": 14.3, "fontSize": 10.5, "fontWeight": "bold", "color": "#e3306c"},
  "encoding": {"x": {"field": "x", "type": "quantitative", "scale": {"domain": [2, 20], "nice": false, "zero": false}, "axis": null}, "y": {"field": "v", "type": "quantitative", "scale": {"domain": [39.36, 197.87], "nice": false, "zero": false}, "axis": null}, "text": {"field": "t"}}}
]},
{"layer": [
 {"data": {"name": "wtB"}, "mark": {"type": "line", "interpolate": "monotone", "color": "#e2286a"},
  "encoding": {
   "x": {"field": "m", "type": "quantitative", "scale": {"domain": [2, 20], "nice": false, "zero": false}, "axis": null},
   "y": {"field": "v", "type": "quantitative", "scale": {"domain": [4.7, 162.54], "nice": false, "zero": false}, "axis": null},
   "detail": {"field": "p"},
   "strokeWidth": {"condition": {"test": "datum.p == '3' || datum.p == '50' || datum.p == '97'", "value": 2}, "value": 1}
  }},
 {"data": {"name": "wtB"}, "transform": [{"filter": "datum.m == 20"}], "mark": {"type": "text", "dx": -14, "dy": 0, "fontSize": 7, "color": "#e0306a"},
  "encoding": {"x": {"field": "m", "type": "quantitative", "scale": {"domain": [2, 20], "nice": false, "zero": false}, "axis": null}, "y": {"field": "v", "type": "quantitative", "scale": {"domain": [4.7, 162.54], "nice": false, "zero": false}, "axis": null}, "text": {"field": "p"}}},
 {"data": {"values": [{"m": 2.41, "v": 10.6}, {"m": 4.08, "v": 14.4}, {"m": 4.92, "v": 16.4}, {"m": 6.24, "v": 18.8}, {"m": 7.36, "v": 21.5}, {"m": 8.13, "v": 23.3}, {"m": 9.29, "v": 28.2}, {"m": 10.03, "v": 31.6}, {"m": 11.68, "v": 39.0}, {"m": 12.61, "v": 39.0}]}, "mark": {"type": "circle", "color": "#111", "size": 55, "opacity": 1},
  "encoding": {"x": {"field": "m", "type": "quantitative", "scale": {"domain": [2, 20], "nice": false, "zero": false}, "axis": null}, "y": {"field": "v", "type": "quantitative", "scale": {"domain": [4.7, 162.54], "nice": false, "zero": false}, "axis": null}}},
 {"data": {"values": [{"x": 9.654, "x2": 13.115, "v": 9.79, "v2": 6.82}]}, "mark": {"type": "rect", "color": "white"},
  "encoding": {"x": {"field": "x", "type": "quantitative", "scale": {"domain": [2, 20], "nice": false, "zero": false}, "axis": null}, "x2": {"field": "x2"}, "y": {"field": "v", "type": "quantitative", "scale": {"domain": [4.7, 162.54], "nice": false, "zero": false}, "axis": null}, "y2": {"field": "v2"}}},
 {"data": {"values": [{"t": "AGE (YEARS)", "x": 11.385, "v": 8.305}, {"t": "lb", "x": -0.038, "v": 7.881}, {"t": "kg", "x": 1.308, "v": 7.881}, {"t": "kg", "x": 20.54, "v": 7.67}, {"t": "lb", "x": 21.69, "v": 7.67}]}, "mark": {"type": "text", "fontSize": 11, "fontWeight": "bold", "color": "#e0306a"},
  "encoding": {"x": {"field": "x", "type": "quantitative", "scale": {"domain": [2, 20], "nice": false, "zero": false}, "axis": null}, "y": {"field": "v", "type": "quantitative", "scale": {"domain": [4.7, 162.54], "nice": false, "zero": false}, "axis": null}, "text": {"field": "t"}}},
 {"data": {"values": [{"t": "W\nE\nI\nG\nH\nT", "x": 22.88, "v": 68.05}, {"t": "W\nE\nI\nG\nH\nT", "x": -0.923, "v": 32.25}]}, "mark": {"type": "text", "baseline": "top", "lineBreak": "\n", "lineHeight": 13.9, "fontSize": 10.5, "fontWeight": "bold", "color": "#e3306c"},
  "encoding": {"x": {"field": "x", "type": "quantitative", "scale": {"domain": [2, 20], "nice": false, "zero": false}, "axis": null}, "y": {"field": "v", "type": "quantitative", "scale": {"domain": [4.7, 162.54], "nice": false, "zero": false}, "axis": null}, "text": {"field": "t"}}},
 {"data": {"values": [{"t": "Published May 30, 2000 (modified 11/21/00).", "x": -0.308, "v": 0.254}, {"t": "SOURCE: Developed by the National Center for Health Statistics in collaboration with", "x": -0.308, "v": -1.864}, {"t": "the National Center for Chronic Disease Prevention and Health Promotion (2000).", "x": 1.115, "v": -3.983}]}, "mark": {"type": "text", "align": "left", "fontSize": 7.5, "color": "#e0306a"},
  "encoding": {"x": {"field": "x", "type": "quantitative", "scale": {"domain": [2, 20], "nice": false, "zero": false}, "axis": null}, "y": {"field": "v", "type": "quantitative", "scale": {"domain": [4.7, 162.54], "nice": false, "zero": false}, "axis": null}, "text": {"field": "t"}}},
 {"data": {"values": [{"x": 20.423, "x2": 22.923, "v": 1.949, "v2": -4.83}]}, "mark": {"type": "rect", "color": "#1f5fa8"},
  "encoding": {"x": {"field": "x", "type": "quantitative", "scale": {"domain": [2, 20], "nice": false, "zero": false}, "axis": null}, "x2": {"field": "x2"}, "y": {"field": "v", "type": "quantitative", "scale": {"domain": [4.7, 162.54], "nice": false, "zero": false}, "axis": null}, "y2": {"field": "v2"}}},
 {"data": {"values": [{"t": "CDC", "x": 21.673, "v": -1.44}]}, "mark": {"type": "text", "font": "Liberation Serif", "fontSize": 22, "fontWeight": "bold", "color": "white"},
  "encoding": {"x": {"field": "x", "type": "quantitative", "scale": {"domain": [2, 20], "nice": false, "zero": false}, "axis": null}, "y": {"field": "v", "type": "quantitative", "scale": {"domain": [4.7, 162.54], "nice": false, "zero": false}, "axis": null}, "text": {"field": "t"}}}
]},
{"data": {"values": []}, "mark": "point",
 "encoding": {
  "x": {"field": "x", "type": "quantitative", "scale": {"domain": [2, 20], "nice": false, "zero": false}, "axis": {"orient": "top", "offset": -163, "values": [3,4,5,6,7,8,9,10,11], "tickSize": 0, "labelPadding": 1, "domain": false, "grid": false, "labelColor": "#e0306a", "title": null}},
  "y": {"field": "v", "type": "quantitative", "scale": {"domain": [4.7, 162.54], "nice": false, "zero": false}, "axis": {"orient": "left", "values": [10,15,20,25,30,35], "grid": false, "domain": false, "tickSize": 5, "tickColor": "#e8457a", "labelPadding": 1, "labelColor": "#e0306a", "title": null}}
 }},
{"data": {"values": []}, "mark": "point",
 "encoding": {
  "x": {"field": "x", "type": "quantitative", "scale": {"domain": [2, 20], "nice": false, "zero": false}, "axis": null},
  "y": {"field": "v", "type": "quantitative", "scale": {"domain": [10.36, 358.34], "nice": false, "zero": false}, "axis": {"orient": "left", "offset": 33, "values": [30,40,50,60,70,80], "grid": false, "domain": true, "domainColor": "#e8457a", "tickSize": 4, "tickColor": "#e8457a", "labelPadding": 1, "labelColor": "#e0306a", "title": null}}
 }},
{"data": {"values": []}, "mark": "point",
 "encoding": {
  "x": {"field": "x", "type": "quantitative", "scale": {"domain": [2, 20], "nice": false, "zero": false}, "axis": null},
  "y": {"field": "v", "type": "quantitative", "scale": {"domain": [10.36, 358.34], "nice": false, "zero": false}, "axis": {"orient": "right", "offset": 33, "values": [30,40,50,60,70,80,90,100,110,120,130,140,150,160,170,180,190,200,210,220,230], "grid": false, "domain": true, "domainColor": "#e8457a", "tickSize": 4, "tickColor": "#e8457a", "labelPadding": 1, "labelColor": "#e0306a", "title": null}}
 }},
{"data": {"values": []}, "mark": "point",
 "encoding": {
  "x": {"field": "x", "type": "quantitative", "scale": {"domain": [2, 20], "nice": false, "zero": false}, "axis": null},
  "y": {"field": "v", "type": "quantitative", "scale": {"domain": [15.5, 77.9], "nice": false, "zero": false}, "axis": {"orient": "left", "offset": 33, "values": [30,32,34,36,38,40,42,44,46,48,50,52,54,56,58,60,62], "grid": false, "domain": false, "tickSize": 4, "tickColor": "#e8457a", "labelPadding": 1, "labelColor": "#e0306a", "title": null}}
 }},
{"data": {"values": []}, "mark": "point",
 "encoding": {
  "x": {"field": "x", "type": "quantitative", "scale": {"domain": [2, 20], "nice": false, "zero": false}, "axis": null},
  "y": {"field": "v", "type": "quantitative", "scale": {"domain": [15.5, 77.9], "nice": false, "zero": false}, "axis": {"orient": "right", "offset": 33, "values": [60,62,64,66,68,70,72,74,76], "grid": false, "domain": false, "tickSize": 4, "tickColor": "#e8457a", "labelPadding": 1, "labelColor": "#e0306a", "title": null}}
 }},
{"data": {"values": []}, "mark": "point",
 "encoding": {
  "x": {"field": "x", "type": "quantitative", "scale": {"domain": [2, 20], "nice": false, "zero": false}, "axis": null},
  "y": {"field": "v", "type": "quantitative", "scale": {"domain": [39.36, 197.87], "nice": false, "zero": false}, "axis": {"orient": "right", "values": [150,155,160,165,170,175,180,185,190], "grid": false, "domain": false, "tickSize": 5, "tickColor": "#e8457a", "labelPadding": 1, "labelColor": "#e0306a", "title": null}}
 }}
]
}
]
}
